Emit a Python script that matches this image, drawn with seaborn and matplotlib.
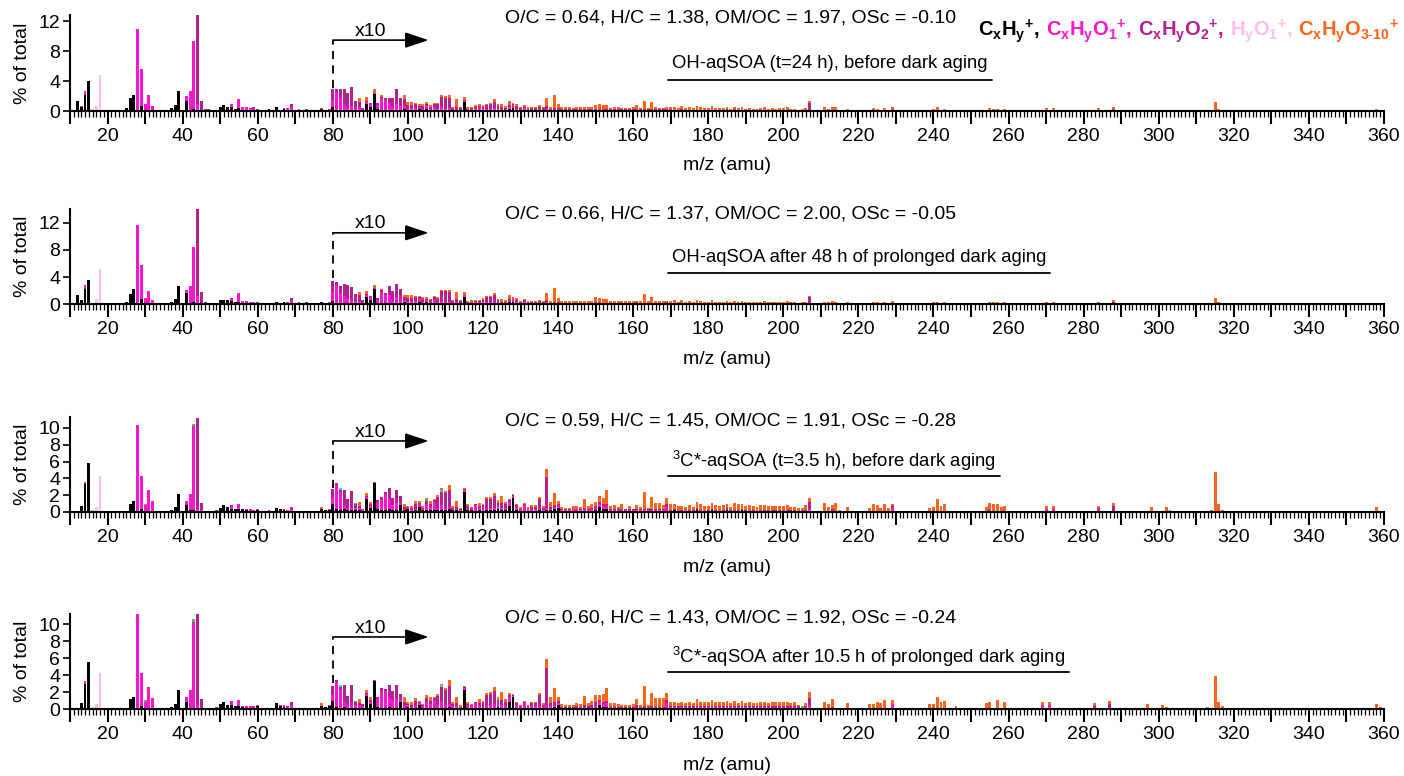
import numpy as np
import pandas as pd
import matplotlib
matplotlib.use("Agg")
import matplotlib.pyplot as plt
import seaborn as sns
from matplotlib.ticker import MultipleLocator, FuncFormatter
from matplotlib.offsetbox import TextArea, HPacker, AnchoredOffsetbox
from matplotlib.lines import Line2D

# ---------------------------------------------------------------------------
# Unit-mass spectra, % of total signal. Values from m/z 80 up are shown x10.
# Sparse peaks: {m/z: %}; dense blocks: one value per m/z for 80..209.
# ---------------------------------------------------------------------------
DENSE_MZ = np.arange(80, 210)
MAGNIFY_FROM = 80
MAGNIFY = 10

# ---- OH-aqSOA (t=24 h), before dark aging --------------------------------
S1_CH = {12: 1.3, 13: .6, 14: 2.2, 15: 4.0, 19: .05, 20: .05, 21: .05, 22: .05, 23: .05,
         24: .1, 25: .4, 26: 1.7, 27: 2.2, 29: .7, 30: .1, 36: .05, 37: .4, 38: .8, 39: 2.7,
         40: .1, 41: 1.4, 42: .2, 43: .3, 44: .1, 49: .1, 50: .6, 51: .75, 52: .5, 53: .5,
         54: .3, 55: .4, 56: .2, 57: .2, 58: .1, 60: .1, 62: .15, 63: .25, 64: .1, 65: .5,
         66: .2, 67: .3, 68: .1, 69: .2, 70: .1, 71: .1, 74: .1, 75: .1, 76: .1, 77: .3,
         78: .1, 79: .2}
S1_O1 = {13: .1, 14: .5, 28: 10.9, 29: 4.9, 30: .9, 31: 2.1, 32: .7, 33: .05, 41: .6,
         42: 2.5, 43: 9.0, 44: .8, 45: .2, 53: .5, 55: 1.2, 56: .3, 57: .3, 58: .3, 59: .3,
         67: .1, 68: .3, 69: .3, 71: .2, 73: .2, 79: .1,
         229: .01, 270: .02, 272: .02, 284: .02}
S1_O2 = {44: 11.9, 45: 1.1, 46: .3, 47: .3, 59: .2, 60: .2, 61: .2, 69: .4, 72: .1, 73: .1,
         75: .1, 213: .02, 229: .02, 288: .03}
S1_HO = {16: .3, 17: .7, 18: 4.8}
S1_O3 = {77: .1, 211: .05, 212: .03, 213: .03, 214: .05, 217: .03, 223: .02, 224: .04,
         225: .03, 227: .04, 229: .03, 239: .02, 240: .03, 241: .05, 243: .03, 255: .04,
         256: .03, 257: .03, 258: .02, 259: .03, 270: .02, 272: .02, 284: .02, 288: .03,
         298: .02, 302: .02, 315: .12, 316: .03, 358: .03}
D1_CH = [.05, .02, .02, .02, .01, .02, .01, .02, .01, .09,
         .06, .23, .03, .02, .02, .02, .02, .02, .02, .03,
         .01, .02, .02, .03, .01, .03, .01, .02, .01, .02,
         .01, .02, .01, .02, .01, .12, .01, .01, .01, .02,
         .01, .01, .01, .02, .01, .01, .01, .03, .04, .01,
         .01, .01, .01, .01, .01, .01, .01, .01, .01, .01,
         .01, .01, .01, .01, .01, .01, .01, .01, .01, .01,
         .01, .01, .01, .01, .01, .01, .01, .01, .01, .01,
         .01, .01, .01, .01, .01, .01, .01, .01, .01, .01,
         .01, .01, .01, .01, .01, .01, .01, .01, .01, .01,
         .01, .01, .01, .01, .01, .01, .01, .01, .01, .01,
         .01, .01, .01, .01, .01, .01, .01, .01, .01, .01,
         .01, .01, .01, .01, 0, .01, .01, .01, 0, 0]
D1_O1 = [.10, .22, .16, .07, .04, .05, .03, .03, .02, .03,
         .03, .01, .05, .15, .13, .09, .04, .08, .05, .04,
         .02, .02, .03, .03, .02, .04, .02, .04, .02, .03,
         .02, .02, .01, .01, .01, .02, .01, .01, .03, .03,
         .02, .02, .02, .02, .02, .01, .01, .02, .02, .02,
         .01, .03, .01, .01, .01, .01, .01, .01, .005, .01,
         .01, .005, .005, .005, .005, .005, .005, .005, .005, .005,
         .01, .01, .005, .005, .005, .005, .005, .005, .005, .005,
         .005, .01, .005, .005, .005, .005, .005, .005, .005, .01,
         .005, .005, .005, .005, .005, .005, .005, .005, .005, .005,
         .005, .005, .005, .005, .005, .005, .005, .005, .005, .005,
         .005, .005, .005, .005, .005, .005, .005, .005, .005, .005,
         .005, .005, .005, .005, 0, .005, .005, .01, 0, 0]
D1_O2 = [.14, .05, .11, .20, .195, .25, .09, .07, .015, .02,
         .02, 0, .03, .02, .02, .06, .12, .20, .10, .09,
         .05, .04, .04, .01, .04, .03, .03, .03, .06, .14,
         .15, .13, .02, .03, .02, .01, .01, .02, .015, .02,
         .03, .05, .06, .08, .04, .03, .02, .03, .03, .04,
         .02, .015, .01, .02, .02, .04, .015, .05, .01, .02,
         .02, .01, .01, .01, .01, .01, .01, .01, .01, .01,
         .01, .01, .01, .01, .01, .01, .01, .01, .01, .01,
         .01, .01, .01, .01, .01, .01, .01, .01, .01, .01,
         .01, .005, .005, .01, .005, .005, .005, .005, .005, .005,
         .005, .01, .005, .005, .005, .01, .005, .01, .005, .005,
         .005, .005, .005, .005, .005, .005, .005, .005, .005, .005,
         .005, .005, .005, .005, 0, .005, .005, .09, 0, 0]
D1_O3 = [0, 0, 0, 0, 0, 0, 0, .05, 0, .045,
         0, .05, 0, .02, 0, 0, 0, 0, 0, .05,
         .04, .04, .02, .02, .02, .02, .02, .02, .02, .02,
         .02, .05, .02, .10, .02, .04, .02, .02, .02, .02,
         .02, .02, .02, .035, .02, .04, .03, .06, .02, .03,
         .02, .02, .02, .02, .02, .02, .02, .10, .03, .17,
         .055, .025, .025, .03, .02, .03, .025, .03, .035, .03,
         .055, .07, .05, .055, .02, .035, .03, .02, .02, .02,
         .025, .05, .015, .11, .015, .09, .03, .015, .02, .03,
         .03, .04, .02, .04, .02, .03, .02, .05, .03, .02,
         .02, .04, .02, .02, .02, .03, .01, .03, .02, .03,
         .01, .02, .01, .01, .02, .03, .01, .02, .01, .02,
         .02, .03, .01, .01, 0, .01, .02, .02, 0, 0]

# ---- OH-aqSOA after 48 h of prolonged dark aging -------------------------
S2_CH = {12: 1.37, 13: .6, 14: 2.25, 15: 3.6, 19: .05, 20: .05, 21: .05, 22: .05, 23: .05,
         24: .1, 25: .3, 26: 1.5, 27: 2.25, 29: .8, 30: .1, 37: .3, 38: .8, 39: 2.7, 40: .1,
         41: 1.6, 42: .25, 43: .3, 44: .1, 49: .1, 50: .6, 51: .7, 52: .6, 53: .5, 54: .35,
         55: .4, 56: .2, 57: .2, 58: .1, 60: .1, 62: .1, 63: .2, 64: .1, 65: .4, 66: .2,
         67: .3, 68: .1, 69: .2, 70: .1, 71: .1, 74: .1, 75: .1, 76: .1, 77: .3, 78: .1, 79: .2}
S2_O1 = {14: .6, 28: 11.7, 29: 4.9, 30: .8, 31: 2.0, 32: .65, 41: .5, 42: 2.5, 43: 8.1,
         44: 1.1, 45: .2, 53: .4, 55: 1.2, 56: .3, 57: .3, 58: .3, 59: .3, 67: .1, 68: .3,
         69: .3, 71: .2, 73: .2, 79: .1, 270: .02, 272: .02, 284: .02}
S2_O2 = {44: 12.8, 45: 1.6, 46: .3, 47: .2, 48: .2, 59: .1, 60: .2, 61: .1, 69: .4, 72: .1,
         73: .1, 75: .1, 213: .02, 229: .02, 288: .03}
S2_HO = {16: .2, 17: .75, 18: 5.2}
S2_O3 = {77: .1, 211: .04, 212: .03, 213: .03, 214: .04, 217: .03, 223: .02, 224: .03,
         225: .03, 227: .04, 229: .03, 239: .02, 240: .03, 241: .04, 243: .03, 255: .03,
         256: .03, 257: .03, 259: .03, 270: .02, 272: .02, 284: .02, 288: .03, 298: .02,
         302: .02, 315: .09, 316: .03, 358: .02}
D2_CH = [.05, .02, .02, .02, .02, .02, .01, .02, .01, .10,
         .07, .225, .02, .02, .02, .02, .02, .02, .02, .03,
         .01, .02, .02, .04, .01, .03, .01, .02, .01, .02,
         .01, .02, .01, .02, .01, .11, .01, .01, .01, .01,
         .01, .01, .01, .02, .01, .01, .01, .03, .04, .01,
         .01, .01, .01, .01, .01, .01, .01, .01, .01, .01,
         .01, .01, .01, .01, .01, .01, .01, .01, .01, .01,
         .01, .01, .01, .01, .01, .01, .01, .01, .01, .01,
         .01, .01, .01, .01, .01, .01, .01, .01, .01, .01,
         .01, .01, .01, .01, .01, .01, .01, .01, .01, .01,
         .01, .01, .01, .01, .01, .01, .01, .01, .01, .01,
         .01, .01, .01, .01, .01, .01, .01, .01, .01, .01,
         .01, .01, .01, .01, 0, .01, .01, .01, 0, 0]
D2_O1 = [.13, .26, .14, .10, .06, .05, .04, .03, .03, .03,
         .03, .01, .04, .16, .12, .12, .05, .08, .07, .03,
         .03, .03, .03, .04, .03, .03, .02, .05, .02, .03,
         .03, .03, .01, .015, .01, .02, .01, .01, .03, .02,
         .02, .02, .02, .02, .02, .01, .01, .02, .02, .02,
         .01, .03, .01, .01, .01, .01, .01, .01, .005, .01,
         .01, .005, .005, .005, .005, .005, .005, .005, .005, .005,
         .01, .01, .005, .005, .005, .005, .005, .005, .005, .005,
         .005, .01, .005, .005, .005, .005, .005, .005, .005, .01,
         .005, .005, .005, .005, .005, .005, .005, .005, .005, .005,
         .005, .005, .005, .005, .005, .005, .005, .005, .005, .005,
         .005, .005, .005, .005, .005, .005, .005, .005, .005, .005,
         .005, .005, .005, .005, 0, .005, .005, .01, 0, 0]
D2_O2 = [.16, .05, .105, .18, .20, .18, .10, .08, .03, .02,
         .02, 0, .03, .03, .03, .125, .12, .20, .13, .04,
         .05, .04, .05, .02, .04, .02, .03, .03, .05, .145,
         .155, .125, .03, .04, .03, .01, .01, .02, .01, .02,
         .04, .07, .07, .09, .03, .02, .01, .03, .02, .03,
         .01, .02, .01, .015, .015, .025, .015, .045, .01, .02,
         .02, .01, .01, .01, .01, .01, .01, .01, .01, .01,
         .01, .01, .01, .01, .01, .01, .01, .01, .01, .01,
         .01, .01, .01, .01, .01, .01, .01, .01, .01, .01,
         .01, .005, .005, .01, .005, .005, .005, .005, .005, .005,
         .005, .01, .005, .005, .005, .01, .005, .01, .005, .005,
         .005, .005, .005, .005, .005, .005, .005, .005, .005, .005,
         .005, .005, .005, .005, 0, .005, .005, .08, 0, 0]
D2_O3 = [0, 0, 0, 0, 0, 0, 0, .05, 0, .05,
         0, .055, 0, .02, 0, 0, 0, 0, 0, .04,
         .04, .04, .02, .02, .02, .02, .02, .02, .02, .02,
         .02, .04, .02, .10, .02, .04, .02, .02, .02, .02,
         .02, .02, .02, .035, .02, .04, .03, .06, .02, .03,
         .02, .02, .02, .02, .02, .02, .02, .10, .03, .20,
         .055, .025, .025, .025, .025, .025, .025, .025, .025, .025,
         .07, .06, .05, .06, .02, .02, .02, .02, .02, .02,
         .02, .02, .02, .13, .02, .08, .02, .02, .02, .02,
         .03, .04, .02, .04, .02, .03, .02, .05, .03, .02,
         .02, .04, .02, .02, .02, .03, .01, .03, .02, .03,
         .01, .02, .01, .01, .02, .03, .01, .02, .01, .02,
         .02, .03, .01, .01, 0, .01, .02, .02, 0, 0]

# ---- 3C*-aqSOA (t=3.5 h), before dark aging ------------------------------
S3_CH = {12: .1, 13: .75, 14: 3.3, 15: 5.8, 19: .05, 20: .05, 21: .05, 22: .05, 23: .05,
         24: .1, 25: .1, 26: 1.0, 27: 1.3, 29: .3, 30: .05, 37: .2, 38: .6, 39: 2.2, 40: .1,
         41: .8, 42: .2, 43: .2, 44: .1, 49: .1, 50: .5, 51: .8, 52: .6, 53: .4, 54: .4,
         55: .3, 56: .3, 57: .2, 58: .15, 59: .1, 60: .2, 61: .1, 62: .1, 63: .15, 64: .1,
         65: .5, 66: .3, 67: .25, 68: .1, 69: .15, 70: .1, 71: .1, 72: .05, 73: .05, 74: .1,
         75: .1, 76: .1, 77: .4, 78: .2, 79: .25}
S3_O1 = {14: .3, 28: 10.4, 29: 4.0, 30: .75, 31: 2.6, 32: 1.3, 41: .5, 42: 2.0, 43: 10.0,
         44: .3, 45: .2, 53: .4, 55: .65, 56: .1, 57: .1, 58: .2, 59: .1, 60: .1, 63: .05,
         66: .05, 67: .1, 68: .1, 69: .2, 79: .05,
         229: .05, 243: .01, 270: .04, 272: .04, 284: .03}
S3_O2 = {44: 10.8, 45: .9, 46: .15, 47: .15, 48: .1, 49: .1, 59: .05, 60: .1, 61: .05,
         69: .3, 213: .03, 229: .02, 255: .02, 284: .02, 288: .07}
S3_HO = {16: .25, 17: .55, 18: 4.3}
S3_N = {30: .15, 43: .3, 86: .02, 105: .02, 205: .02}
S3_NO = {82: .02, 109: .02}
S3_O3 = {77: .2, 211: .11, 212: .06, 213: .05, 214: .11, 215: .02, 217: .06, 223: .05,
         224: .09, 225: .08, 226: .05, 227: .10, 228: .05, 229: .03, 239: .05, 240: .06,
         241: .16, 242: .07, 243: .09, 246: .01, 254: .06, 255: .09, 256: .09, 257: .10,
         258: .055, 259: .07, 270: .03, 272: .03, 284: .02, 288: .04, 298: .055, 302: .055,
         303: .02, 304: .015, 313: .01, 314: .02, 315: .47, 316: .10, 317: .02, 329: .015,
         331: .015, 358: .06}
D3_CH = [.10, .03, .02, .03, .02, .02, .02, .02, .01, .16,
         .05, .34, .03, .02, .02, .03, .02, .02, .08, .02,
         .03, .01, .02, .06, .02, .02, .02, .02, .02, .02,
         .02, .03, .02, .02, .01, .24, .02, .02, .01, .02,
         .01, .02, .02, .02, .03, .02, .02, .07, .17, .02,
         .01, .01, .01, .01, .01, .02, .01, .02, .02, .03,
         .05, .01, .01, .01, .01, .01, .01, .01, .01, .01,
         .02, .06, .03, .03, .01, .01, .01, .01, .01, .01,
         .01, .01, .01, .01, .01, .01, .01, .01, .01, .01,
         .01, .02, .01, .01, .01, .01, .01, .02, .01, .01,
         .01, .02, .01, .01, .01, .02, .01, .01, .01, .02,
         .01, .01, .01, .01, .01, .01, .01, .01, .01, .01,
         .01, .01, .01, .01, .005, 0, .01, .01, 0, 0]
D3_O1 = [.07, .29, .22, .05, .03, .03, .03, .03, .02, .02,
         .02, .02, .09, .13, .19, .12, .06, .09, .03, .02,
         .02, .02, .02, .03, .02, .07, .04, .10, .03, .06,
         .03, .03, .02, .02, .01, .02, .03, .02, .07, .03,
         .02, .02, .03, .03, .04, .03, .03, .05, .02, .03,
         .02, .07, .02, .03, .03, .02, .02, .03, .02, .02,
         .02, .01, .01, .01, .02, .02, .01, .02, .01, .02,
         .02, .03, .03, .04, .01, .01, .01, .01, .01, .01,
         .01, .01, .01, .01, .01, .01, .01, .01, .01, .05,
         .005, .005, .01, .005, .01, .005, .005, .005, .005, .01,
         .005, .005, .005, .01, .005, .005, .005, .005, .005, .005,
         .005, .01, .005, .01, .005, .005, .005, .005, .005, .005,
         .005, .005, .005, .005, .005, .02, .005, .03, 0, 0]
D3_O2 = [.10, .02, .02, .18, .10, .20, .04, .02, .01, .01,
         .02, 0, .02, .025, .03, .14, .09, .15, .08, .02,
         .01, .02, .06, .02, .01, .04, .03, .02, .13, .16,
         .18, .20, .01, .02, .01, .01, .02, .01, .01, .02,
         .05, .12, .11, .14, .04, .06, .04, .02, .01, .03,
         .01, .01, .01, .02, .02, .12, .02, .37, .02, .03,
         .02, .01, .01, .01, .01, .01, .01, .02, .02, .02,
         .03, .03, .03, .03, .01, .01, .01, .01, .01, .01,
         .01, .01, .01, .02, .01, .02, .01, .01, .01, .03,
         .01, .005, .005, .01, .005, .01, .005, .02, .005, .005,
         .005, .01, .005, .005, .005, .02, .005, .01, .005, .01,
         .005, .005, .005, .005, .005, .01, .005, .01, .005, .01,
         .005, .01, .005, .005, .005, 0, .005, .08, 0, 0]
D3_O3 = [0, 0, 0, 0, 0, 0, 0, .05, 0, .04,
         .03, 0, 0, 0, 0, 0, 0, 0, 0, .04,
         .015, .025, .03, .02, .02, .02, .04, .02, .02, .02,
         .02, .065, .02, .07, .02, .01, .02, .01, .01, .04,
         .01, .02, .02, .04, .03, .08, .03, .01, .01, .02,
         .02, .02, .02, .02, .02, .02, .02, .09, .06, .15,
         .04, .03, .02, .02, .03, .03, .03, .10, .03, .05,
         .05, .07, .08, .16, .04, .05, .03, .06, .01, .04,
         .01, .05, .03, .20, .02, .14, .08, .08, .05, .08,
         .07, .06, .05, .05, .04, .06, .04, .07, .07, .05,
         .05, .07, .06, .05, .06, .05, .04, .08, .07, .06,
         .05, .06, .05, .04, .06, .06, .05, .05, .05, .05,
         .05, .06, .04, .04, .03, .01, .06, .05, .01, 0]

# ---- 3C*-aqSOA after 10.5 h of prolonged dark aging ----------------------
S4_CH = {12: .1, 13: .7, 14: 3.0, 15: 5.6, 19: .05, 20: .05, 21: .05, 22: .05, 23: .05,
         24: .1, 25: .2, 26: 1.2, 27: 1.4, 29: .4, 30: .05, 37: .3, 38: .6, 39: 2.3, 40: .1,
         41: .9, 42: .2, 43: .2, 44: .1, 49: .2, 50: .6, 51: .9, 52: .5, 53: .5, 54: .4,
         55: .4, 56: .3, 57: .2, 58: .2, 59: .1, 60: .4, 61: .1, 62: .1, 63: .2, 64: .1,
         65: .7, 66: .4, 67: .3, 68: .2, 69: .2, 70: .1, 71: .1, 72: .05, 73: .05, 74: .1,
         75: .1, 76: .1, 77: .4, 78: .3, 79: .4}
S4_O1 = {14: .3, 28: 11.2, 29: 3.9, 30: .85, 31: 2.6, 32: 1.3, 41: .5, 42: 2.1, 43: 10.1,
         44: .4, 45: .2, 53: .5, 55: .7, 56: .1, 57: .15, 58: .2, 59: .2, 60: .1, 66: .1,
         67: .2, 68: .2, 69: .2, 79: .1,
         229: .06, 269: .05, 271: .05, 283: .02}
S4_O2 = {44: 10.7, 45: 1.0, 46: .1, 47: .1, 49: .1, 59: .05, 60: .05, 69: .4,
         213: .03, 283: .02, 287: .06}
S4_HO = {16: .25, 17: .6, 18: 4.3}
S4_N = {27: .1, 30: .15, 43: .3, 86: .02, 205: .02}
S4_NO = {82: .02, 109: .02}
S4_O3 = {77: .3, 211: .08, 212: .06, 213: .09, 215: .02, 217: .07, 223: .06, 224: .06,
         225: .08, 226: .07, 227: .11, 229: .05, 239: .06, 240: .06, 241: .15, 242: .08,
         243: .10, 246: .04, 254: .07, 255: .09, 257: .11, 259: .08, 262: .01, 269: .03,
         271: .03, 278: .01, 283: .03, 287: .04, 297: .06, 300: .02, 301: .05, 302: .03,
         305: .02, 311: .02, 312: .02, 313: .03, 315: .39, 316: .09, 317: .04, 324: .015,
         326: .015, 329: .02, 330: .02, 331: .02, 339: .015, 341: .015, 345: .015,
         347: .015, 358: .06, 359: .03}
D4_CH = [.10, .03, .02, .03, .02, .02, .02, .02, .01, .16,
         .06, .33, .03, .02, .02, .03, .02, .02, .08, .02,
         .03, .01, .02, .05, .02, .02, .02, .02, .02, .02,
         .02, .03, .02, .02, .01, .23, .02, .02, .01, .02,
         .01, .02, .02, .02, .03, .02, .02, .08, .14, .02,
         .01, .01, .01, .01, .01, .02, .01, .02, .02, .03,
         .05, .01, .01, .01, .01, .01, .01, .01, .01, .01,
         .02, .05, .03, .03, .01, .01, .01, .01, .01, .01,
         .01, .01, .01, .01, .01, .01, .01, .01, .01, .01,
         .01, .01, .01, .01, .01, .01, .01, .01, .01, .01,
         .01, .01, .01, .01, .01, .01, .01, .01, .01, .01,
         .01, .01, .01, .01, .01, .01, .01, .01, .01, .01,
         .01, .01, .01, .01, .01, 0, .01, .01, 0, 0]
D4_O1 = [.07, .29, .22, .06, .04, .05, .03, .03, .03, .02,
         .03, .02, .09, .20, .19, .12, .09, .10, .03, .03,
         .02, .02, .02, .02, .02, .07, .04, .09, .03, .06,
         .03, .03, .02, .02, .01, .02, .02, .02, .06, .03,
         .02, .03, .03, .04, .04, .03, .03, .07, .02, .03,
         .02, .06, .02, .03, .03, .02, .02, .03, .02, .02,
         .02, .01, .01, .01, .01, .02, .01, .02, .01, .02,
         .03, .03, .03, .04, .01, .01, .01, .01, .01, .01,
         .01, .02, .01, .01, .01, .01, .01, .01, .01, .06,
         .02, .02, .02, .02, .02, .02, .02, .02, .02, .02,
         .02, .02, .02, .02, .02, .02, .02, .02, .02, .02,
         .02, .02, .02, .02, .02, .02, .02, .02, .02, .02,
         .02, .02, .02, .02, .02, .02, .02, .04, 0, 0]
D4_O2 = [.10, .02, .02, .19, .10, .21, .03, .02, .02, .01,
         .02, 0, .02, .03, .03, .14, .11, .16, .07, .03,
         .01, .02, .06, .01, .01, .04, .04, .02, .11, .18,
         .18, .21, .02, .03, .01, .01, .02, .01, .01, .02,
         .05, .12, .13, .15, .04, .06, .04, .02, .01, .02,
         .01, .01, .01, .03, .03, .13, .02, .43, .03, .03,
         .03, .01, .01, .01, .01, .01, .01, .02, .02, .02,
         .04, .03, .03, .03, .01, .01, .01, .01, .01, .01,
         .01, .02, .01, .02, .01, .02, .01, .01, .01, .04,
         .01, .01, .01, .01, .01, .01, .01, .01, .01, .01,
         .01, .01, .01, .01, .01, .01, .01, .01, .01, .01,
         .01, .01, .01, .01, .01, .01, .01, .01, .01, .01,
         .01, .01, .01, .01, .01, 0, .01, .08, 0, 0]
D4_O3 = [0, 0, 0, 0, 0, 0, 0, .05, 0, .04,
         .03, 0, 0, 0, 0, 0, 0, 0, 0, .06,
         .02, .03, .03, .02, .01, .04, .04, .02, .02, .02,
         .02, .07, .02, .08, .02, .01, .02, .01, .01, .05,
         .02, .02, .02, .05, .03, .09, .03, .02, .01, .02,
         .01, .02, .01, .02, .02, .02, .02, .11, .07, .17,
         .04, .03, .02, .02, .02, .03, .03, .11, .03, .05,
         .08, .06, .09, .15, .04, .04, .03, .02, .02, .02,
         .03, .07, .02, .23, .02, .15, .10, .10, .10, .08,
         .05, .05, .03, .04, .03, .05, .03, .08, .05, .04,
         .04, .07, .04, .05, .04, .06, .03, .06, .03, .06,
         .03, .05, .03, .03, .04, .05, .03, .05, .04, .05,
         .04, .04, .03, .04, .01, 0, .03, .07, .01, 0]

STATS = ["O/C = 0.64, H/C = 1.38, OM/OC = 1.97, OSc = -0.10",
         "O/C = 0.66, H/C = 1.37, OM/OC = 2.00, OSc = -0.05",
         "O/C = 0.59, H/C = 1.45, OM/OC = 1.91, OSc = -0.28",
         "O/C = 0.60, H/C = 1.43, OM/OC = 1.92, OSc = -0.24"]
TITLES = ["OH-aqSOA (t=24 h), before dark aging",
          "OH-aqSOA after 48 h of prolonged dark aging",
          r"$^3$C*-aqSOA (t=3.5 h), before dark aging",
          r"$^3$C*-aqSOA after 10.5 h of prolonged dark aging"]

# Ion families, bottom of each stacked bar first
FAMILIES = ["CxHy", "CxHyO1", "CxHyO2", "HyO1", "CxHyN", "CxHyON", "CxHyO3-10"]
COLORS = {"CxHy": "#000000", "CxHyO1": "#ff14d0", "CxHyO2": "#b4208f",
          "HyO1": "#ffbdee", "CxHyN": "#3ccc3c", "CxHyON": "#3fd2d2",
          "CxHyO3-10": "#ff6418"}

SPECTRA = [
    ({"CxHy": S1_CH, "CxHyO1": S1_O1, "CxHyO2": S1_O2, "HyO1": S1_HO, "CxHyO3-10": S1_O3},
     {"CxHy": D1_CH, "CxHyO1": D1_O1, "CxHyO2": D1_O2, "CxHyO3-10": D1_O3}),
    ({"CxHy": S2_CH, "CxHyO1": S2_O1, "CxHyO2": S2_O2, "HyO1": S2_HO, "CxHyO3-10": S2_O3},
     {"CxHy": D2_CH, "CxHyO1": D2_O1, "CxHyO2": D2_O2, "CxHyO3-10": D2_O3}),
    ({"CxHy": S3_CH, "CxHyO1": S3_O1, "CxHyO2": S3_O2, "HyO1": S3_HO, "CxHyN": S3_N,
      "CxHyON": S3_NO, "CxHyO3-10": S3_O3},
     {"CxHy": D3_CH, "CxHyO1": D3_O1, "CxHyO2": D3_O2, "CxHyO3-10": D3_O3}),
    ({"CxHy": S4_CH, "CxHyO1": S4_O1, "CxHyO2": S4_O2, "HyO1": S4_HO, "CxHyN": S4_N,
      "CxHyON": S4_NO, "CxHyO3-10": S4_O3},
     {"CxHy": D4_CH, "CxHyO1": D4_O1, "CxHyO2": D4_O2, "CxHyO3-10": D4_O3}),
]


def spectrum_frame(sparse, dense):
    rows = []
    for fam in FAMILIES:
        vals = {12: 0.0}
        for mz, v in sparse.get(fam, {}).items():
            vals[mz] = vals.get(mz, 0.0) + v
        seq = dense.get(fam)
        if seq is not None:
            assert len(seq) == len(DENSE_MZ), (fam, len(seq))
            for mz, v in zip(DENSE_MZ, seq):
                vals[int(mz)] = vals.get(int(mz), 0.0) + v
        for mz, v in vals.items():
            shown = v * MAGNIFY if mz >= MAGNIFY_FROM else v
            rows.append((mz, fam, shown))
    return pd.DataFrame(rows, columns=["mz", "family", "pct"])


# ---------------------------------------------------------------------------
sns.set_theme(style="ticks")
plt.rcParams["font.family"] = ["Liberation Sans", "DejaVu Sans"]
plt.rcParams["mathtext.fontset"] = "custom"
plt.rcParams["mathtext.rm"] = "Liberation Sans"
plt.rcParams["mathtext.it"] = "Liberation Sans:italic"
plt.rcParams["mathtext.bf"] = "Liberation Sans:bold"
for key in ("text.color", "axes.labelcolor", "xtick.color", "ytick.color",
            "axes.edgecolor"):
    plt.rcParams[key] = "black"

W, H = 1404, 776
fig = plt.figure(figsize=(W / 100, H / 100), dpi=100)
fig.patch.set_facecolor("white")

LEFT, RIGHT = 70, 1384
# axes top / bottom rows (pixels), y limits, ticks, arrow level, dash bottom
LAYOUT = [
    dict(top=15, bottom=111, ymax=12.8, yticks=[0, 4, 8, 12], arrow=9.45, dash=3.1,
         stats_y=18, title_y=64, line_y=80, xlab_y=166),
    dict(top=209, bottom=304.3, ymax=14.0, yticks=[0, 4, 8, 12], arrow=10.5, dash=3.9,
         stats_y=214, title_y=258, line_y=273, xlab_y=360),
    dict(top=417, bottom=512, ymax=11.3, yticks=[0, 2, 4, 6, 8, 10], arrow=8.45, dash=2.9,
         stats_y=421, title_y=461, line_y=476, xlab_y=567),
    dict(top=614, bottom=709.3, ymax=11.2, yticks=[0, 2, 4, 6, 8, 10], arrow=8.5, dash=3.1,
         stats_y=618, title_y=657, line_y=672, xlab_y=765),
]

FS = 14
FS_TITLE = 13.3
title_texts = []
for (sparse, dense), lay, stats, title in zip(SPECTRA, LAYOUT, STATS, TITLES):
    ax = fig.add_axes([LEFT / W, 1 - lay["bottom"] / H, (RIGHT - LEFT) / W,
                       (lay["bottom"] - lay["top"]) / H])
    df = spectrum_frame(sparse, dense)
    sns.histplot(data=df, x="mz", weights="pct", hue="family",
                 hue_order=FAMILIES[::-1], palette=COLORS, multiple="stack",
                 discrete=True, shrink=0.78, linewidth=0, alpha=1,
                 legend=False, ax=ax)
    ax.set_xlim(10, 360)
    ax.set_ylim(0, lay["ymax"])
    ax.set_yticks(lay["yticks"])
    ax.xaxis.set_major_locator(MultipleLocator(10))
    ax.xaxis.set_minor_locator(MultipleLocator(1))
    ax.xaxis.set_major_formatter(FuncFormatter(
        lambda v, p: f"{int(round(v))}" if int(round(v)) % 20 == 0 else ""))
    ax.tick_params(axis="x", which="major", direction="out", length=9, width=1.5,
                   labelsize=FS, pad=3, color="black")
    ax.tick_params(axis="x", which="minor", direction="out", length=4.5, width=0.9,
                   color="black")
    ax.tick_params(axis="y", which="major", direction="out", length=5, width=1.2,
                   labelsize=FS, pad=2, color="black")
    sns.despine(ax=ax)
    for side in ("left", "bottom"):
        ax.spines[side].set_linewidth(1.5)
        ax.spines[side].set_color("black")
    ax.set_facecolor("none")

    h_px = lay["bottom"] - lay["top"]
    ax.set_xlabel("m/z (amu)", fontsize=FS)
    ax.xaxis.set_label_coords(0.5, -(lay["xlab_y"] - lay["bottom"]) / h_px)
    ax.xaxis.label.set_va("center")
    ax.set_ylabel("% of total", fontsize=FS)
    ax.yaxis.set_label_coords(-(70 - 31) / (RIGHT - LEFT), 0.5)

    # x10 magnification marker
    ax.plot([80, 80], [lay["dash"], lay["arrow"]], color="black", lw=1.3,
            ls=(0, (4.5, 3.5)), clip_on=False, solid_capstyle="butt")
    ax.annotate("", xy=(105.5, lay["arrow"]), xytext=(80, lay["arrow"]),
                arrowprops=dict(arrowstyle="-|>,head_length=0.6,head_width=0.2",
                                mutation_scale=24, lw=1.2, color="black",
                                shrinkA=0, shrinkB=0),
                annotation_clip=False)
    ax.annotate("x10", xy=(90, lay["arrow"]), xytext=(0, 3.2),
                textcoords="offset points", ha="center", va="baseline",
                fontsize=FS, annotation_clip=False)

    fig.text(505 / W, 1 - lay["stats_y"] / H, stats, ha="left", va="center", fontsize=FS)
    t = fig.text(672 / W, 1 - lay["title_y"] / H, title, ha="left", va="center",
                 fontsize=FS_TITLE)
    title_texts.append((t, lay["line_y"]))

# Colour key for the ion families
KEY = [(r"$\mathbf{C_xH_y}{}^{\mathbf{+}}$,", COLORS["CxHy"]),
       (r"$\mathbf{C_xH_yO_1}{}^{\mathbf{+}}$,", COLORS["CxHyO1"]),
       (r"$\mathbf{C_xH_yO_2}{}^{\mathbf{+}}$,", COLORS["CxHyO2"]),
       (r"$\mathbf{H_yO_1}{}^{\mathbf{+}}$,", COLORS["HyO1"]),
       (r"$\mathbf{C_xH_yO_{3\text{-}10}}{}^{\mathbf{+}}$", COLORS["CxHyO3-10"])]
boxes = [TextArea(s, textprops=dict(color=c, fontsize=14.5, fontweight="bold"))
         for s, c in KEY]
pack = HPacker(children=boxes, align="baseline", pad=0, sep=4.5)
key = AnchoredOffsetbox(loc="center left", child=pack, pad=0, borderpad=0,
                        frameon=False, bbox_to_anchor=(978 / W, 1 - 31 / H),
                        bbox_transform=fig.transFigure)
fig.add_artist(key)

# Underline the sample titles
fig.canvas.draw()
renderer = fig.canvas.get_renderer()
for t, line_y in title_texts:
    bb = t.get_window_extent(renderer)
    x1 = (bb.x1 + 4) / W
    fig.add_artist(Line2D([668 / W, x1], [1 - line_y / H, 1 - line_y / H],
                          color="black", lw=1.3, transform=fig.transFigure))

fig.savefig("out.png", dpi=100, facecolor="white")
